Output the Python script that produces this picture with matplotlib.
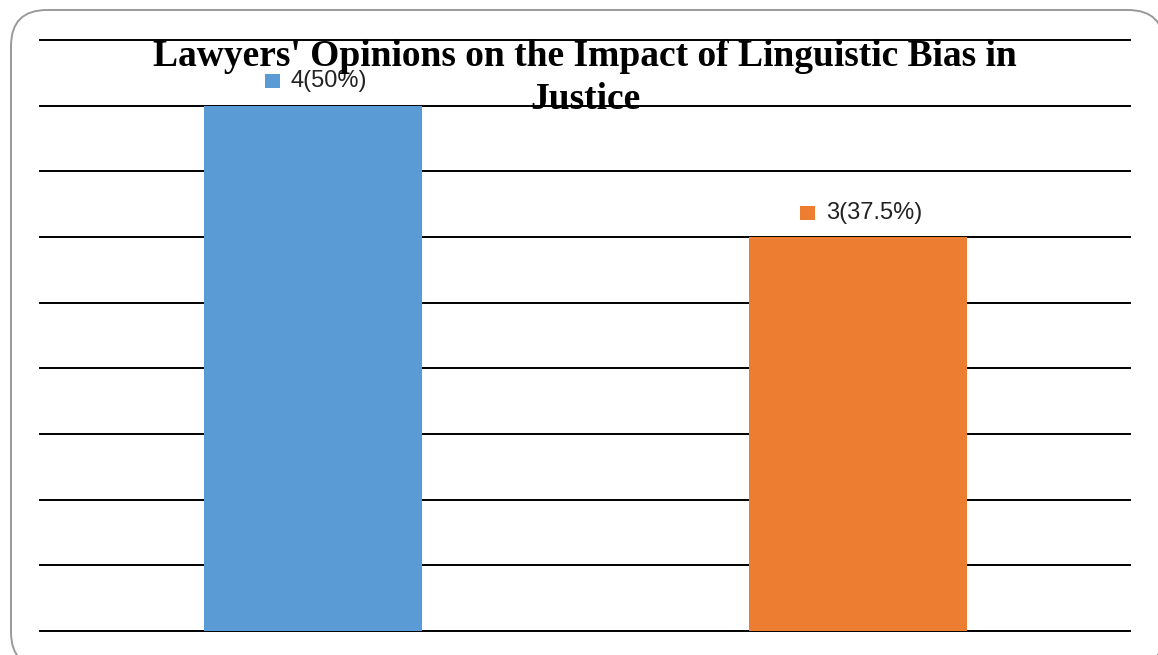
import matplotlib
matplotlib.use("Agg")
import matplotlib.pyplot as plt
from matplotlib.patches import FancyBboxPatch, Rectangle
from matplotlib.offsetbox import AnnotationBbox, DrawingArea, TextArea, HPacker
from matplotlib.transforms import IdentityTransform

# Data
categories = ["Yes", "No"]
counts = [4, 3]
labels = ["4(50%)", "3(37.5%)"]
colors = ["#5B9BD5", "#ED7D31"]
title = "Lawyers' Opinions on the Impact of Linguistic Bias in\nJustice"

W, H, DPI = 1158, 655, 100
fig = plt.figure(figsize=(W / DPI, H / DPI), dpi=DPI)

# Rounded frame around the whole chart (pixel coordinates, origin bottom-left).
# A filled face keeps Agg from clipping the curved corners at the canvas edge.
fx0, fx1, ftop, fbot = 11, 1164, 10, 668
frame = FancyBboxPatch((fx0, H - fbot), fx1 - fx0, fbot - ftop,
                       boxstyle="round,pad=0,rounding_size=36",
                       transform=IdentityTransform(), facecolor="white",
                       edgecolor="#9a9a9a", linewidth=1.4, zorder=-1)
fig.patches.append(frame)

left, right, top, bottom = 40, 1130, 40, 631
ax = fig.add_axes([left / W, 1 - bottom / H, (right - left) / W, (bottom - top) / H])
ax.set_facecolor("none")

x = list(range(len(categories)))
ax.bar(x, counts, width=0.4, color=colors, zorder=3)

ax.set_xlim(-0.5, 1.5)
ax.set_ylim(0, 4.5)
ax.set_yticks([i * 0.5 for i in range(10)])
ax.grid(axis="y", color="black", linewidth=1.4, zorder=1)
for gl in ax.get_ygridlines():
    gl.set_clip_on(False)
ax.tick_params(left=False, bottom=False, labelleft=False, labelbottom=False)
for s in ax.spines.values():
    s.set_visible(False)

# Value labels with colored square keys above each bar
for xi, v, lab, c in zip(x, counts, labels, colors):
    da = DrawingArea(11, 10, 0, 0)
    da.add_artist(Rectangle((0, 0), 11, 10, facecolor=c, edgecolor="none"))
    ta = TextArea(lab, textprops=dict(fontsize=17, family="Liberation Sans", color="#222222"))
    pack = HPacker(children=[da, ta], align="center", pad=0, sep=8)
    ab = AnnotationBbox(pack, (xi, v), xybox=(2.5, 17.5), xycoords="data",
                        boxcoords="offset points", frameon=False,
                        box_alignment=(0.5, 0.5), zorder=5)
    ax.add_artist(ab)

fig.text((left + right) / 2 / W, 1 - 39 / H, title, ha="center", va="top",
         fontsize=27, fontweight="bold", family="Liberation Serif",
         linespacing=1.3, zorder=6)

fig.savefig("out.png", dpi=DPI, facecolor="white")
